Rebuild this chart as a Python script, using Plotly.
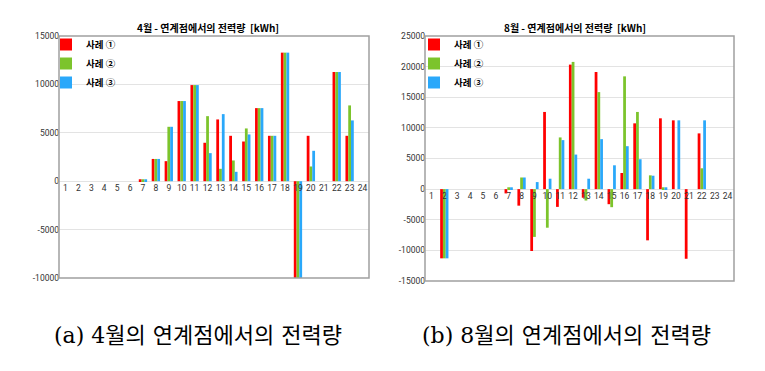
import plotly.graph_objects as go

hours = list(range(1, 25))
series_names = ["사례 ①", "사례 ②", "사례 ③"]

apr_case1 = [0, 0, 0, 0, 0, 0, 200, 2300, 2070, 8280, 9930, 3970, 6380, 4690, 4100, 7550, 4690, 13280, -10000, 4690, 0, 11280, 4690, 0]
apr_case2 = [0, 0, 0, 0, 0, 0, 200, 2300, 5620, 8280, 9930, 6720, 1280, 2140, 5450, 7550, 4690, 13280, -10000, 1520, 0, 11280, 7830, 0]
apr_case3 = [0, 0, 0, 0, 0, 0, 200, 2300, 5620, 8280, 9930, 2900, 6930, 970, 4830, 7550, 4690, 13280, -10000, 3140, 0, 11280, 6280, 0]

aug_case1 = [0, -11300, 0, 0, 0, 0, -700, -2700, -10100, 12600, -2900, 20330, -1400, 19120, -2460, 2630, 10740, -8360, 11560, 11230, -11370, 9100, 0, 0]
aug_case2 = [0, -11300, 0, 0, 0, 0, 300, 1900, -7800, -6300, 8440, 20770, -1860, 15840, -2950, 18410, 12600, 2250, 300, 0, 0, 3400, 0, 0]
aug_case3 = [0, -11300, 0, 0, 0, 0, 300, 1900, 1150, 1700, 8000, 5640, 1700, 8160, 3890, 7010, 4880, 2190, 300, 11230, 0, 11230, 0, 0]

apr_ticks = [15000, 10000, 5000, 0, -5000, -10000]
apr_ticktext = ["15000", "10000", "5000", "0", "-5000", "-10000"]
aug_ticks = [25000, 20000, 15000, 10000, 5000, 0, -5000, -10000, -15000]
aug_ticktext = ["25000", "20000", "15000", "10000", "5000", "0", "-5000", "-10000", "-15000"]

title_apr = "4월 - 연계점에서의 전력량  [kWh]"
title_aug = "8월 - 연계점에서의 전력량  [kWh]"
caption_a = "(a) 4월의 연계점에서의 전력량"
caption_b = "(b) 8월의 연계점에서의 전력량"

colors = ["#FF0000", "#7CC42C", "#2AA8FA"]
BAR_W = 0.215
offsets = [-1.5 * BAR_W, -0.5 * BAR_W, 0.5 * BAR_W]

W, H = 765, 371
TICKFONT = dict(family="Roboto, sans-serif", size=8.5, color="#333333")
LEGFONT = dict(family="Noto Sans CJK KR", size=9.5, color="#000000", weight="bold")

fig = go.Figure()
for name, vals, c, off in zip(series_names, [apr_case1, apr_case2, apr_case3], colors, offsets):
    fig.add_trace(go.Bar(x=hours, y=vals, name=name, marker_color=c, marker_line_width=0,
                         width=BAR_W, offset=off, xaxis="x", yaxis="y", legend="legend"))
for name, vals, c, off in zip(series_names, [aug_case1, aug_case2, aug_case3], colors, offsets):
    fig.add_trace(go.Bar(x=hours, y=vals, name=name, marker_color=c, marker_line_width=0,
                         width=BAR_W, offset=off, xaxis="x2", yaxis="y2", legend="legend2"))

# plot areas (pixels)
L = dict(x0=59, x1=369, ytop=36, ybot=278)
R = dict(x0=425, x1=734, ytop=36, ybot=281)

def dom_x(p):
    return [p["x0"] / W, p["x1"] / W]

def dom_y(p):
    return [(H - p["ybot"]) / H, (H - p["ytop"]) / H]

ldy = dom_y(L)
rdy = dom_y(R)
apr_range = [-10000, 15000]
aug_range = [-15000, 25000]
lpos = ldy[0] + (0 - apr_range[0]) / (apr_range[1] - apr_range[0]) * (ldy[1] - ldy[0])
rpos = rdy[0] + (0 - aug_range[0]) / (aug_range[1] - aug_range[0]) * (rdy[1] - rdy[0])

grid = "#E3E3E3"
xcommon = dict(range=[0.5, 24.5], tickvals=hours, ticktext=[str(h) for h in hours],
               showgrid=False, zeroline=False, showline=False, ticks="", tickfont=TICKFONT,
               anchor="free", fixedrange=True, automargin=False)
ycommon = dict(showgrid=True, gridcolor=grid, gridwidth=1, zeroline=False, showline=False,
               ticks="", tickfont=TICKFONT, anchor="free", fixedrange=True, automargin=False)
fig.update_layout(
    template="none",
    width=W, height=H, autosize=False,
    margin=dict(l=0, r=0, t=0, b=0, pad=0),
    paper_bgcolor="white", plot_bgcolor="white",
    barmode="group", bargap=0.36, bargroupgap=0,
    xaxis=dict(domain=dom_x(L), position=lpos, **xcommon),
    xaxis2=dict(domain=dom_x(R), position=rpos, **xcommon),
    yaxis=dict(domain=ldy, range=apr_range, tickvals=apr_ticks, ticktext=apr_ticktext,
               position=dom_x(L)[0], **ycommon),
    yaxis2=dict(domain=rdy, range=aug_range, tickvals=aug_ticks, ticktext=aug_ticktext,
                position=dom_x(R)[0], **ycommon),
    legend=dict(x=46 / W, y=(H - 30) / H, xanchor="left", yanchor="top", font=LEGFONT,
                bgcolor="rgba(0,0,0,0)", tracegroupgap=0, itemwidth=30, borderwidth=0),
    legend2=dict(x=414 / W, y=(H - 30) / H, xanchor="left", yanchor="top", font=LEGFONT,
                 bgcolor="rgba(0,0,0,0)", tracegroupgap=0, itemwidth=30, borderwidth=0),
    showlegend=True,
)

for xr, yr in [("x domain", "y domain"), ("x2 domain", "y2 domain")]:
    fig.add_shape(type="rect", xref=xr, yref=yr, x0=0, x1=1, y0=0, y1=1,
                  line=dict(color="#A0A0A0", width=1.5), layer="above")

TITLEFONT = dict(family="Noto Sans CJK KR", size=10, color="#000000", weight="bold")
fig.add_annotation(text=title_apr, x=208 / W, y=(H - 28) / H, xref="paper", yref="paper",
                   showarrow=False, font=TITLEFONT, xanchor="center", yanchor="middle")
fig.add_annotation(text=title_aug, x=575 / W, y=(H - 28) / H, xref="paper", yref="paper",
                   showarrow=False, font=TITLEFONT, xanchor="center", yanchor="middle")

CAPFONT = dict(family="DejaVu Serif, Noto Sans CJK KR", size=22, color="#000000")
fig.add_annotation(text=caption_a, x=198 / W, y=(H - 335) / H, xref="paper", yref="paper",
                   showarrow=False, font=CAPFONT, xanchor="center", yanchor="middle")
fig.add_annotation(text=caption_b, x=566 / W, y=(H - 335) / H, xref="paper", yref="paper",
                   showarrow=False, font=CAPFONT, xanchor="center", yanchor="middle")

fig.write_html("out.html", config={"displayModeBar": False},
               post_script="document.body.style.margin='0px';")
